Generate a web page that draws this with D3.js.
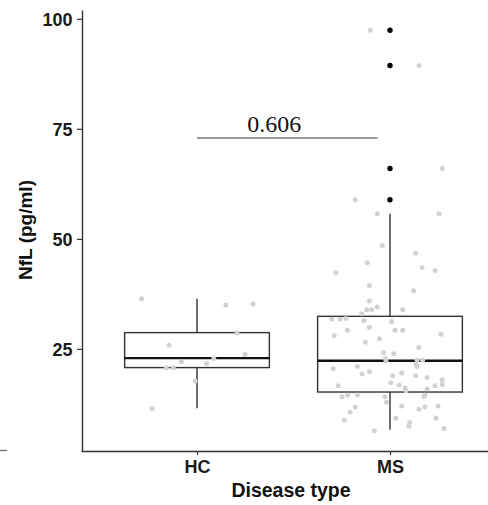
<!DOCTYPE html>
<html><head><meta charset="utf-8">
<script src="https://cdn.jsdelivr.net/npm/d3@7"></script>
<style>html,body{margin:0;padding:0;background:#fff;}svg{display:block;}</style>
</head><body>
<svg id="chart" width="488" height="505"></svg>
<script>
// ---- data ----
const categories = ["HC", "MS"];
const yTicks = [25, 50, 75, 100];
// box statistics per category: [lowerWhisker, q1, median, q3, upperWhisker]
const boxHC = [11.5, 20.75, 22.9, 28.7, 36.4];
const boxMS = [6.6, 15.2, 22.3, 32.4, 55.7];
const outliersMS = [97.4, 89.4, 66.0, 58.9];
// jittered points: [offset (category units), value]
const pointsHC = [[-0.287,36.4],[0.150,35.0],[0.290,35.2],[0.207,28.6],[-0.145,25.8],[0.249,23.8],[-0.081,22.1],[0.087,22.8],[0.050,21.7],[-0.159,20.7],[-0.123,20.7],[-0.010,17.7],[-0.233,11.4]];
const pointsMS = [[-0.102,97.4],[0.150,89.4],[0.271,66.0],[-0.180,58.9],[-0.066,55.7],[0.254,55.7],[-0.040,48.5],[0.133,46.75],[-0.118,44.6],[0.166,43.5],[0.233,42.8],[-0.280,42.3],[-0.107,39.4],[0.123,38.2],[-0.107,35.9],[-0.066,34.5],[-0.121,33.9],[-0.095,33.9],[0.066,33.9],[-0.147,33.0],[-0.302,31.75],[-0.259,31.75],[-0.228,31.9],[-0.135,31.4],[0.009,31.2],[-0.221,29.25],[-0.107,29.9],[0.026,29.25],[0.066,29.25],[-0.289,28.0],[0.264,28.3],[-0.055,27.3],[-0.128,26.5],[0.149,25.3],[-0.033,24.2],[0.019,23.9],[-0.024,22.9],[-0.021,22.3],[0.140,22.5],[0.169,22.4],[0.135,21.5],[0.140,21.0],[-0.295,20.5],[-0.169,21.0],[-0.107,19.8],[-0.144,19.3],[0.061,19.5],[0.014,18.9],[0.133,18.9],[0.192,18.5],[0.271,18.0],[0.271,16.9],[0.004,17.3],[0.047,16.8],[0.078,16.1],[0.083,15.5],[0.192,15.9],[0.233,16.6],[-0.268,16.6],[-0.249,14.1],[-0.220,14.5],[-0.169,14.5],[-0.027,14.1],[-0.018,12.9],[0.181,14.5],[0.176,14.2],[0.061,12.0],[-0.180,11.8],[0.181,11.8],[0.150,11.3],[0.249,12.0],[-0.207,10.6],[-0.237,8.8],[0.030,9.25],[0.238,9.25],[0.102,8.3],[0.098,7.4],[-0.081,6.4],[0.280,6.9]];
const comparison = {from: 1, to: 1.935, y: 72.9, labelX: 1.40, label: "0.606"};
const xTitle = "Disease type";
const yTitle = "NfL (pg/ml)";

// ---- layout ----
const svg = d3.select("#chart");
const x = d3.scaleLinear().domain([0.4, 2.6]).range([81.2, 505.8]);
const y = d3.scaleLinear().domain([1.8, 102]).range([451, 10]);
const boxWidth = 0.75;
const axisColor = "#333";

const boxes = [{cat: 1, s: boxHC, out: []}, {cat: 2, s: boxMS, out: outliersMS}];
const g = svg.append("g");
boxes.forEach(b => {
  const cx = x(b.cat), x0 = x(b.cat - boxWidth/2), x1 = x(b.cat + boxWidth/2);
  g.append("line").attr("x1", cx).attr("x2", cx).attr("y1", y(b.s[3])).attr("y2", y(b.s[4])).attr("stroke", axisColor).attr("stroke-width", 1.4);
  g.append("line").attr("x1", cx).attr("x2", cx).attr("y1", y(b.s[1])).attr("y2", y(b.s[0])).attr("stroke", axisColor).attr("stroke-width", 1.4);
  g.append("rect").attr("x", x0).attr("width", x1 - x0).attr("y", y(b.s[3])).attr("height", y(b.s[1]) - y(b.s[3]))
    .attr("fill", "#fff").attr("stroke", axisColor).attr("stroke-width", 1.4);
  g.append("line").attr("x1", x0).attr("x2", x1).attr("y1", y(b.s[2])).attr("y2", y(b.s[2])).attr("stroke", "#111").attr("stroke-width", 2.4);
  g.selectAll(null).data(b.out).join("circle").attr("cx", cx).attr("cy", d => y(d)).attr("r", 2.7).attr("fill", "#000");
});

// jitter points
[[1, pointsHC], [2, pointsMS]].forEach(([c, pts]) => {
  g.selectAll(null).data(pts).join("circle")
    .attr("cx", d => x(c + d[0])).attr("cy", d => y(d[1])).attr("r", 2.5).attr("fill", "#cfd3d2");
});

// comparison bracket
svg.append("line").attr("x1", x(comparison.from)).attr("x2", x(comparison.to))
  .attr("y1", y(comparison.y)).attr("y2", y(comparison.y)).attr("stroke", "#333").attr("stroke-width", 1.1);
svg.append("text").attr("x", x(comparison.labelX)).attr("y", y(comparison.y) - 6.5)
  .attr("text-anchor", "middle").attr("font-family", "'Liberation Serif', 'DejaVu Serif', serif")
  .attr("font-size", 24).attr("fill", "#111").text(comparison.label);

// axes
const yAxis = svg.append("g").attr("transform", `translate(${x(0.4) + 0.8},0)`)
  .call(d3.axisLeft(y).tickValues(yTicks).tickSize(5).tickSizeOuter(0).tickPadding(4.5));
const xAxis = svg.append("g").attr("transform", `translate(0,${y(1.8)})`)
  .call(d3.axisBottom(x).tickValues([1, 2]).tickFormat(d => categories[d - 1]).tickSize(4).tickSizeOuter(0).tickPadding(5));
[yAxis, xAxis].forEach(a => {
  a.select(".domain").attr("stroke", axisColor).attr("stroke-width", 1.4);
  a.selectAll(".tick line").attr("stroke", axisColor).attr("stroke-width", 1.2);
  a.selectAll(".tick text").attr("font-family", "'Liberation Sans', Arial, sans-serif")
    .attr("font-weight", "bold").attr("font-size", 18).attr("fill", "#1a1a1a");
});
yAxis.selectAll(".tick text").attr("dy", "0.36em");

// stray line fragment at left edge
svg.append("line").attr("x1", 0).attr("x2", 7).attr("y1", y(1.8) - 0.5).attr("y2", y(1.8) - 0.5).attr("stroke", "#666").attr("stroke-width", 1.2);

// titles
svg.append("text").attr("x", 291).attr("y", 497).attr("text-anchor", "middle")
  .attr("font-family", "'Liberation Sans', Arial, sans-serif").attr("font-weight", "bold").attr("font-size", 19.5).attr("fill", "#111").text(xTitle);
svg.append("text").attr("transform", "translate(32,230) rotate(-90)").attr("text-anchor", "middle")
  .attr("font-family", "'Liberation Sans', Arial, sans-serif").attr("font-weight", "bold").attr("font-size", 19).attr("fill", "#111").text(yTitle);
</script>
</body></html>
